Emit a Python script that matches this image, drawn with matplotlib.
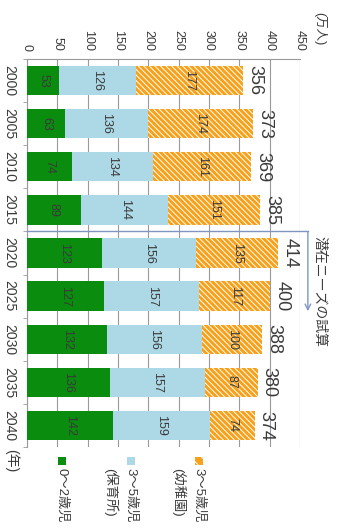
import matplotlib
matplotlib.use("Agg")
import matplotlib.pyplot as plt
from matplotlib.patches import Rectangle
import numpy as np

plt.rcParams['font.family'] = ['Liberation Sans', 'Noto Sans CJK JP', 'DejaVu Sans']
plt.rcParams['hatch.linewidth'] = 0.7

years = ['2000', '2005', '2010', '2015', '2020', '2025', '2030', '2035', '2040']
age_0_2 = [53, 63, 74, 89, 123, 127, 132, 136, 142]
age_3_5_hoikusho = [126, 136, 134, 144, 156, 157, 156, 157, 159]
age_3_5_youchien = [177, 174, 161, 151, 135, 117, 100, 87, 74]
totals = [356, 373, 369, 385, 414, 400, 388, 380, 374]

legend_labels = [['0～2歳児'], ['3～5歳児', '(保育所)'], ['3～5歳児', '(幼稚園)']]

GREEN = '#0A8C0F'
LBLUE = '#ADD8E6'
ORANGE = '#F7A11A'
TXT = '#3a3a3a'
GRID = '#9a9a9a'
ARROW = '#7f97c0'
HATCH = '\\' * 6

W, H = 337, 532
fig = plt.figure(figsize=(W / 100, H / 100), dpi=100)
ax = fig.add_axes([27 / W, 1 - 447 / H, 273 / W, 388 / H])
px = 450 / 273  # data units per pixel along the value axis

y = np.arange(len(years))
h = 0.68
a = np.array(age_0_2)
b = np.array(age_3_5_hoikusho)
c = np.array(age_3_5_youchien)

ax.barh(y, a, height=h, color=GREEN, zorder=3)
ax.barh(y, b, left=a, height=h, color=LBLUE, zorder=3)
ax.barh(y, c, left=a + b, height=h, facecolor=ORANGE, edgecolor='white',
        hatch=HATCH, linewidth=0, zorder=3)

# segment values, text reads top to bottom
for i in range(len(years)):
    for left, val in ((0, a[i]), (a[i], b[i]), (a[i] + b[i], c[i])):
        ax.text(left + val / 2, i, str(val), rotation=-90, ha='center', va='center',
                fontsize=9, color=TXT, zorder=4)
    ax.text(a[i] + b[i] + c[i] + 5, i, str(totals[i]), rotation=-90, ha='left',
            va='center', fontsize=13, color=TXT, zorder=4)

ax.set_xlim(0, 450)
ax.set_ylim(len(years) - 0.5, -0.5)
ax.set_xticks(np.arange(0, 451, 50))
ax.xaxis.tick_top()
ax.tick_params(axis='x', length=0, pad=6, labelsize=9, labelcolor=TXT, labelrotation=-90)
ax.set_yticks(y)
ax.set_yticklabels(years)
ax.tick_params(axis='y', length=0, pad=8, labelsize=10, labelcolor=TXT, labelrotation=-90)
ax.set_yticks(np.arange(-0.5, len(years)), minor=True)
ax.tick_params(axis='y', which='minor', length=3, color=GRID, direction='out')
for t in ax.get_yticklabels():
    t.set_va('center')
ax.grid(axis='x', color=GRID, linewidth=0.8, zorder=0)
for s in ('right', 'bottom'):
    ax.spines[s].set_visible(False)
for s in ('left', 'top'):
    ax.spines[s].set_color(GRID)
    ax.spines[s].set_linewidth(0.8)

# unit labels
fig.text(320 / W, 1 - 12 / H, '(万人)', rotation=-90, ha='center', va='top',
         fontsize=9, color=TXT)
ax.text(-16 * px, len(years) - 0.5 + 0.05, '(年)', rotation=-90, ha='center',
        va='top', fontsize=10, color=TXT, clip_on=False)

# estimate bracket
xr = 463
ax.plot([0, xr], [3.5, 3.5], color=ARROW, lw=1.0, clip_on=False, zorder=5)
ax.annotate('', xy=(xr, 5.35), xytext=(xr, 3.5),
            arrowprops=dict(arrowstyle='->', color=ARROW, lw=1.0,
                            shrinkA=0, shrinkB=0), annotation_clip=False)
ax.text(482, 3.6, '潜在ニーズの試算', rotation=-90, ha='center', va='top',
        fontsize=10, color=TXT, clip_on=False)

# legend, drawn by hand so the labels can be rotated
swatch_x = [62, 131, 199]
styles = [dict(facecolor=GREEN), dict(facecolor=LBLUE),
          dict(facecolor=ORANGE, edgecolor='white', hatch='\\\\\\', linewidth=0)]
for sx, lines, st in zip(swatch_x, legend_labels, styles):
    fig.add_artist(Rectangle(((sx - 4) / W, 1 - 465 / H), 8 / W, 8 / H,
                             transform=fig.transFigure, **st))
    for k, line in enumerate(lines):
        fig.text((sx - 21 * k) / W, 1 - 468 / H, line, rotation=-90,
                 rotation_mode='anchor', ha='left', va='center',
                 fontsize=9.5, color=TXT)

fig.savefig('out.png', dpi=100)
